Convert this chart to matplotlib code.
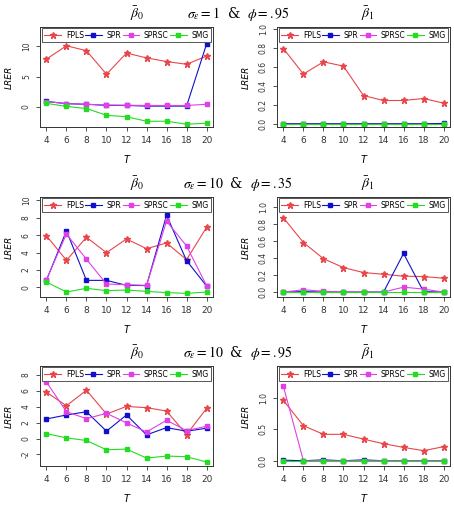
import numpy as np
import matplotlib.pyplot as plt

plt.rcParams['mathtext.fontset'] = 'stix'

T = [4, 6, 8, 10, 12, 14, 16, 18, 20]
methods = ['FPLS', 'SPR', 'SPRSC', 'SMG']

# row 1: sigma=1, phi=.95
r1_b0_fpls = [7.9, 10.1, 9.3, 5.4, 8.9, 8.1, 7.5, 7.05, 8.4]
r1_b0_spr = [0.93, 0.55, 0.45, 0.27, 0.25, 0.15, 0.15, 0.15, 10.4]
r1_b0_sprsc = [0.9, 0.55, 0.45, 0.32, 0.3, 0.25, 0.25, 0.25, 0.45]
r1_b0_smg = [0.6, 0.1, -0.25, -1.37, -1.6, -2.35, -2.35, -2.84, -2.68]
r1_b1_fpls = [0.797, 0.526, 0.656, 0.61, 0.298, 0.246, 0.246, 0.267, 0.218]
r1_b1_spr = [0, 0, 0, 0, 0, 0, 0, 0, 0.003]
r1_b1_sprsc = [0, 0, 0, 0, 0, 0, 0, 0, 0]
r1_b1_smg = [0, 0, 0, 0, 0, 0, 0, 0, 0]

# row 2: sigma=10, phi=.35
r2_b0_fpls = [5.94, 3.1, 5.75, 3.98, 5.56, 4.44, 5.1, 3.18, 6.9]
r2_b0_spr = [0.8, 6.5, 0.8, 0.8, 0.23, 0.2, 8.28, 3.07, 0.15]
r2_b0_sprsc = [0.88, 6.13, 3.22, 0.38, 0.3, 0.23, 7.6, 4.75, 0.19]
r2_b0_smg = [0.61, -0.54, -0.11, -0.38, -0.31, -0.46, -0.61, -0.69, -0.54]
r2_b1_fpls = [0.875, 0.584, 0.393, 0.288, 0.23, 0.21, 0.187, 0.183, 0.163]
r2_b1_spr = [0, 0.005, 0, 0, 0, 0, 0.455, 0.005, 0]
r2_b1_sprsc = [0, 0.027, 0.01, 0, 0, 0, 0.058, 0.035, 0]
r2_b1_smg = [0, 0, 0, 0, 0, 0, 0, 0, 0]

# row 3: sigma=10, phi=.95
r3_b0_fpls = [5.83, 4.12, 6.08, 3.08, 4.04, 3.88, 3.46, 0.5, 3.79]
r3_b0_spr = [2.46, 2.96, 3.37, 0.92, 2.96, 0.46, 1.37, 0.92, 1.29]
r3_b0_sprsc = [7.12, 3.37, 2.5, 3.17, 1.96, 0.83, 2.29, 1.0, 1.54]
r3_b0_smg = [0.62, 0.08, -0.25, -1.42, -1.33, -2.46, -2.21, -2.29, -2.96]
r3_b1_fpls = [0.958, 0.557, 0.42, 0.42, 0.344, 0.27, 0.213, 0.16, 0.224]
r3_b1_spr = [0.01, 0, 0.015, 0, 0.015, 0, 0, 0, 0]
r3_b1_sprsc = [1.18, 0, 0, 0, 0, 0, 0, 0, 0]
r3_b1_smg = [0, 0, 0, 0, 0, 0, 0, 0, 0]

row_titles = [r'$\sigma_\varepsilon = 1\ $ & $\ \phi = .95$',
              r'$\sigma_\varepsilon = 10\ $ & $\ \phi = .35$',
              r'$\sigma_\varepsilon = 10\ $ & $\ \phi = .95$']

panels = [
    [(r1_b0_fpls, r1_b0_spr, r1_b0_sprsc, r1_b0_smg), (-3.3, 13.2), [0, 5, 10], ['0', '5', '10']],
    [(r1_b1_fpls, r1_b1_spr, r1_b1_sprsc, r1_b1_smg), (-0.035, 1.025), [0.0, 0.2, 0.4, 0.6, 0.8, 1.0],
     ['0.0', '0.2', '0.4', '0.6', '0.8', '1.0']],
    [(r2_b0_fpls, r2_b0_spr, r2_b0_sprsc, r2_b0_smg), (-1.11, 10.38), [0, 2, 4, 6, 8, 10],
     ['0', '2', '4', '6', '8', '10']],
    [(r2_b1_fpls, r2_b1_spr, r2_b1_sprsc, r2_b1_smg), (-0.058, 1.12), [0.0, 0.2, 0.4, 0.6, 0.8, 1.0],
     ['0.0', '0.2', '0.4', '0.6', '0.8', '1.0']],
    [(r3_b0_fpls, r3_b0_spr, r3_b0_sprsc, r3_b0_smg), (-3.46, 9.125), [-2, 0, 2, 4, 6, 8],
     ['-2', '0', '2', '4', '6', '8']],
    [(r3_b1_fpls, r3_b1_spr, r3_b1_sprsc, r3_b1_smg), (-0.083, 1.505), [0.0, 0.5, 1.0],
     ['0.0', '0.5', '1.0']],
]

colors = ['#e8464a', '#1010cc', '#e040e8', '#22dd22']
markers = ['*', 's', 's', 's']
msizes = [5, 3, 3, 3]

fig = plt.figure(figsize=(4.54, 5.05), dpi=100)
W, H = 454, 505
lefts = [40, 277]
tops = [27, 197, 366]

for i, (series, ylim, yt, ytl) in enumerate(panels):
    row, col = i // 2, i % 2
    ax = fig.add_axes([lefts[col] / W, 1 - (tops[row] + 100) / H, 173 / W, 100 / H])
    for name, vals, c, m, ms in zip(methods, series, colors, markers, msizes):
        ax.plot(T, vals, color=c, marker=m, markersize=ms, lw=0.8, label=name)
    ax.set_xlim(3.36, 20.64)
    ax.set_ylim(*ylim)
    ax.set_xticks(T)
    ax.set_yticks(yt)
    ax.set_yticklabels(ytl, rotation=90, va='center', ha='right')
    ax.tick_params(labelsize=5.5, length=3, width=0.6, colors='#333333')
    ax.tick_params(axis='x', labelsize=6.5)
    ax.set_xlabel('T', fontsize=7, style='italic', labelpad=7)
    ax.set_ylabel('LRER', fontsize=6.5, style='italic', labelpad=6)
    for s in ax.spines.values():
        s.set_linewidth(0.7)
        s.set_color('#333333')
    leg = ax.legend(ncol=4, loc='upper left', mode='expand',
                    bbox_to_anchor=(0.01, 0.99, 0.98, 0), fontsize=5.5,
                    fancybox=False, framealpha=1, edgecolor='#555555',
                    handlelength=2.2, columnspacing=0.5, handletextpad=0.6,
                    borderpad=0.35, borderaxespad=0)
    leg.get_frame().set_linewidth(0.7)

for row in range(3):
    y = 1 - (tops[row] - 13) / H
    fig.text(137 / W, y, r'$\bar{\beta}_0$', fontsize=10, ha='center', va='center')
    fig.text(238 / W, y, row_titles[row], fontsize=10, ha='center', va='center',
             family='DejaVu Serif')
    fig.text(368 / W, y, r'$\bar{\beta}_1$', fontsize=10, ha='center', va='center')

fig.savefig('out.png', dpi=100)
